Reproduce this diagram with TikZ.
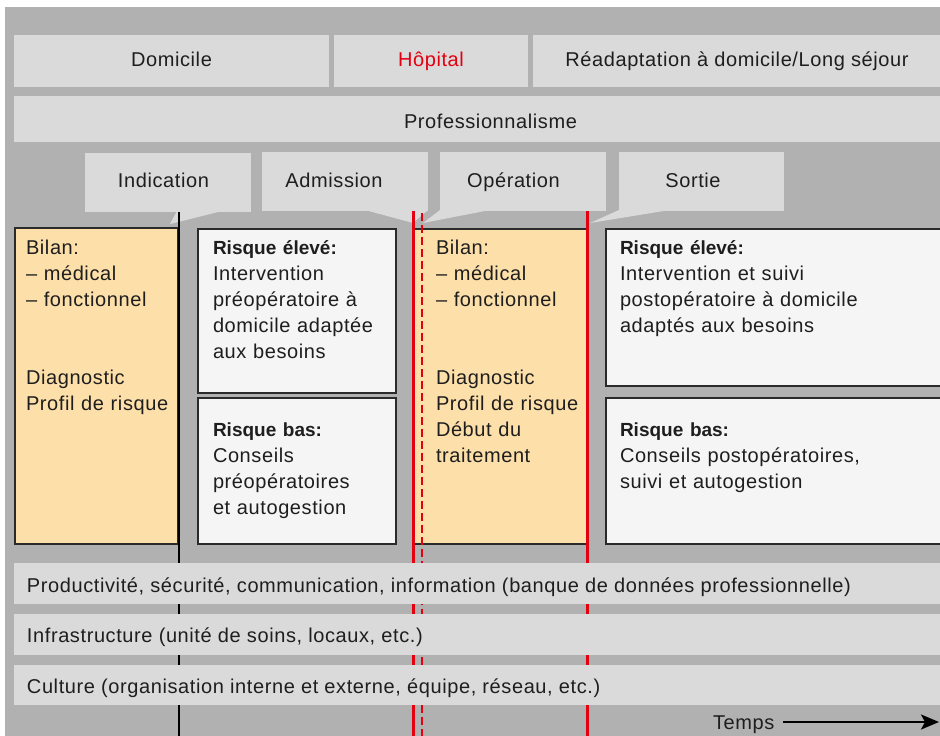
\documentclass[tikz,border=0pt]{standalone}
\usepackage{fontspec}
\setmainfont{Liberation Sans}[LetterSpace=3]
\newfontfamily\boldfam{Liberation Sans}[Scale=0.95]
\usetikzlibrary{arrows.meta}
\definecolor{bggray}{HTML}{B1B1B1}
\definecolor{boxgray}{HTML}{DADADA}
\definecolor{orangebox}{HTML}{FDDFA9}
\definecolor{whitebox}{HTML}{F5F5F5}
\definecolor{redline}{HTML}{E3000F}
\definecolor{darktext}{HTML}{1E1E1E}
\definecolor{bordercol}{HTML}{2A2A2A}
\newcommand\mainfs{\fontsize{20}{26}\selectfont}
\newcommand\hd[1]{{\boldfam\bfseries #1}}
\begin{document}
\begin{tikzpicture}[x=1pt,y=-1pt,
  every node/.style={inner sep=0pt,outer sep=0pt,text=darktext,font=\mainfs},
  bar/.style={fill=boxgray},
  obox/.style={fill=orangebox,draw=bordercol,line width=1.5pt},
  wbox/.style={fill=whitebox,draw=bordercol,line width=1.5pt},
  blk/.style={anchor=north west,text width=320pt,align=left},
  lbl/.style={anchor=base},
  lblw/.style={anchor=base west},
  blackline/.style={draw=black,line width=2.2pt},
  redsolid/.style={draw=redline,line width=3pt},
  reddash/.style={draw=redline,line width=2.8pt,dash pattern=on 8pt off 4pt},
  tarrow/.style={draw=black,line width=2.2pt,-{Stealth[length=18pt,width=15pt,inset=4pt]}}
]
\useasboundingbox (0,0) rectangle (940,736);
\fill[white] (0,0) rectangle (940,736);
\fill[bggray] (5,7) rectangle (945,740);
% top row
\fill[bar] (14,35) rectangle (329,87);
\fill[bar] (334,35) rectangle (528,87);
\fill[bar] (533,35) rectangle (945,87);
\node[lbl] (dom) at (171.5,66) {Domicile};
\node[lbl,text=redline] (hop) at (431,66) {Hôpital};
\node[lbl] (rea) at (737,66) {Réadaptation à domicile/Long séjour};
% professionnalisme
\fill[bar] (14,96) rectangle (945,142);
\node[lbl] (pro) at (490.5,128) {Professionnalisme};
% callouts
\fill[bar] (85,153) rectangle (251,212);
\fill[bar] (177,211) -- (170,224) -- (222,211) -- cycle;
\fill[bar] (262,152) rectangle (428,211);
\fill[bar] (365,210) -- (413,223) -- (428,210) -- cycle;
\fill[bar] (440,152) rectangle (606,211);
\fill[bar] (440,210) -- (423,223) -- (490,210) -- cycle;
\fill[bar] (619,152) rectangle (784,211);
\fill[bar] (619,210) -- (590,223) -- (670,210) -- cycle;
\node[lbl] (ind) at (163.5,187) {Indication};
\node[lbl] (adm) at (334,187) {Admission};
\node[lbl] (ope) at (513.5,187) {Opération};
\node[lbl] (sor) at (693,187) {Sortie};
% boxes
\path[obox] (15,228) rectangle (178,544);
\path[wbox] (198,229) rectangle (396,393);
\path[wbox] (198,398) rectangle (396,544);
\path[obox] (413,229) rectangle (587,544);
\path[wbox] (606,229) rectangle (950,386);
\path[wbox] (606,398) rectangle (950,544);
\node[blk] (o1a) at (26,235.8) {\strut Bilan:\\\textendash\ médical\\\textendash\ fonctionnel};
\node[blk] (o1b) at (26,365.8) {\strut Diagnostic\\Profil de risque};
\node[blk] (re1) at (213,235.8) {\strut\hd{Risque élevé:}\\Intervention\\préopératoire à\\domicile adaptée\\aux besoins};
\node[blk] (rb1) at (213,417.8) {\strut\hd{Risque bas:}\\Conseils\\préopératoires\\et autogestion};
\node[blk] (o2a) at (436,235.8) {\strut Bilan:\\\textendash\ médical\\\textendash\ fonctionnel};
\node[blk] (o2b) at (436,365.8) {\strut Diagnostic\\Profil de risque\\Début du\\traitement};
\node[blk] (re2) at (620,235.8) {\strut\hd{Risque élevé:}\\Intervention et suivi\\postopératoire à domicile\\adaptés aux besoins};
\node[blk] (rb2) at (620,417.8) {\strut\hd{Risque bas:}\\Conseils postopératoires,\\suivi et autogestion};
% timeline lines
\path[blackline] (179,212) -- (179,740);
\path[redsolid] (413,211) -- (413,740);
\path[reddash] (422,213) -- (422,740);
\path[redsolid] (587,211) -- (587,740);
% bottom bars
\fill[bar] (14,563) rectangle (945,604);
\fill[bar] (14,614) rectangle (945,655);
\fill[bar] (14,665) rectangle (945,705);
\node[lblw] (prod) at (27,592) {Productivité, sécurité, communication, information (banque de données professionnelle)};
\node[lblw] (infra) at (27,642) {Infrastructure (unité de soins, locaux, etc.)};
\node[lblw] (cult) at (27,693) {Culture (organisation interne et externe, équipe, réseau, etc.)};
% time arrow
\node[lblw] (temps) at (713,729) {Temps};
\coordinate (tend) at (939,722);
\path[tarrow] ([xshift=9pt]temps.east |- tend) -- (tend);
\end{tikzpicture}
\end{document}
